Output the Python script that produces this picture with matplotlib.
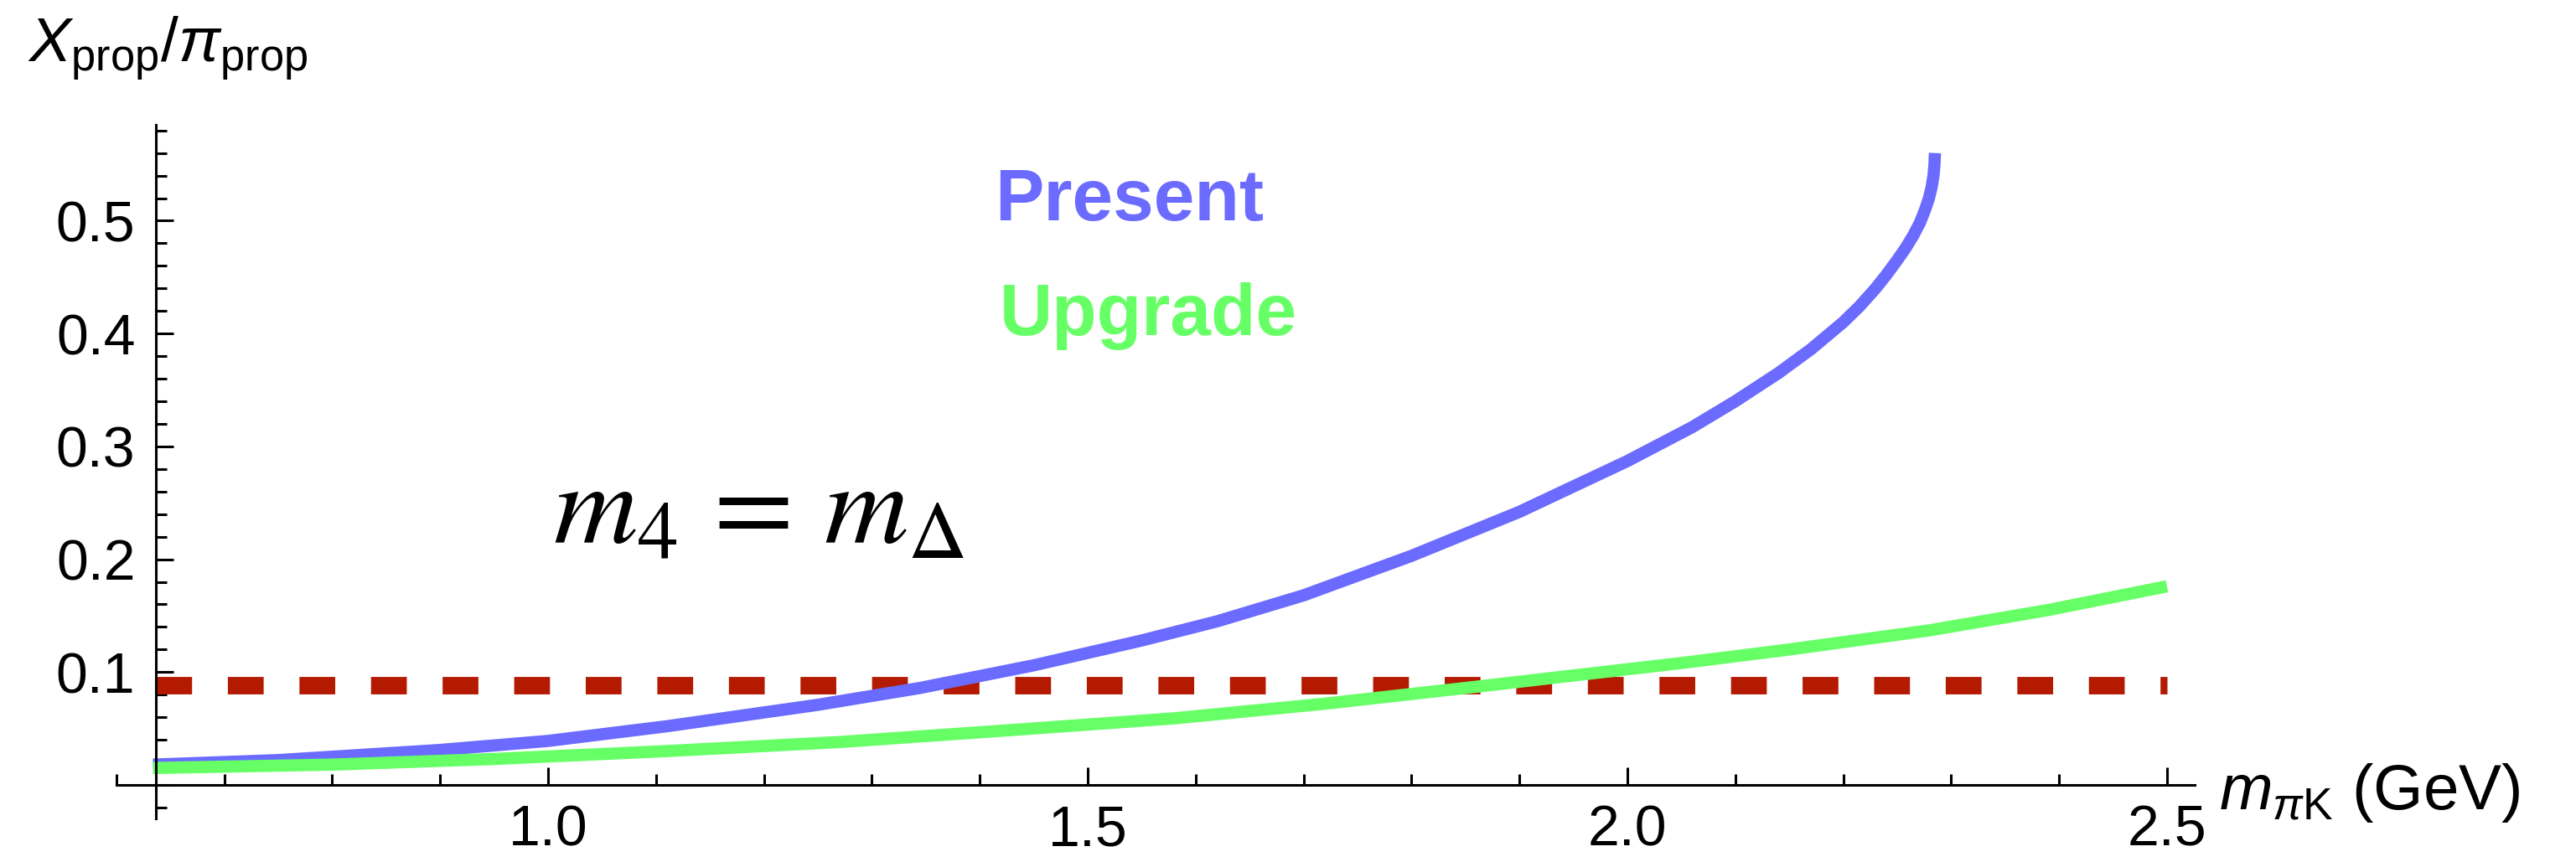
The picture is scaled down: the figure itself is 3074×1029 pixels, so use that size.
import matplotlib
matplotlib.use("Agg")
import matplotlib.pyplot as plt
from matplotlib.ticker import FixedLocator

plt.rcParams["font.family"] = ["Liberation Sans", "DejaVu Sans"]
plt.rcParams["mathtext.fontset"] = "custom"
plt.rcParams["mathtext.rm"] = "Liberation Sans"
plt.rcParams["mathtext.it"] = "Liberation Sans:italic"
plt.rcParams["mathtext.bf"] = "Liberation Sans:bold"

# values
present_x = [0.634, 0.75, 0.90, 1.00, 1.11, 1.25, 1.345, 1.45, 1.55, 1.62, 1.70,
             1.80, 1.90, 2.00, 2.06, 2.10, 2.14, 2.17, 2.20, 2.215, 2.23, 2.24,
             2.25, 2.258, 2.265, 2.271, 2.276, 2.2795, 2.282, 2.2837, 2.2846, 2.285]
present_y = [0.018, 0.022, 0.031, 0.039, 0.052, 0.071, 0.086, 0.106, 0.128, 0.145, 0.168,
             0.203, 0.242, 0.287, 0.317, 0.340, 0.365, 0.386, 0.410, 0.424, 0.440, 0.452,
             0.465, 0.476, 0.487, 0.498, 0.510, 0.520, 0.530, 0.540, 0.550, 0.560]

upgrade_x = [0.634, 0.80, 0.95, 1.11, 1.27, 1.42, 1.58, 1.72, 1.86, 1.95,
             2.05, 2.15, 2.28, 2.39, 2.50]
upgrade_y = [0.015, 0.018, 0.023, 0.030, 0.038, 0.048, 0.059, 0.072, 0.087, 0.097,
             0.108, 0.120, 0.137, 0.155, 0.176]

bound_x = [0.637, 2.50]
bound_y = [0.088, 0.088]

x_major = [1.0, 1.5, 2.0, 2.5]
x_minor = [0.6, 0.7, 0.8, 0.9, 1.1, 1.2, 1.3, 1.4, 1.6, 1.7, 1.8, 1.9,
           2.1, 2.2, 2.3, 2.4]
y_major = [0.0, 0.1, 0.2, 0.3, 0.4, 0.5]
y_labels = ["", "0.1", "0.2", "0.3", "0.4", "0.5"]
y_minor = [-0.02, 0.02, 0.04, 0.06, 0.08, 0.12, 0.14, 0.16, 0.18, 0.22, 0.24,
           0.26, 0.28, 0.32, 0.34, 0.36, 0.38, 0.42, 0.44, 0.46, 0.48,
           0.52, 0.54, 0.56, 0.58]

BLUE = "#6b6bff"
GREEN = "#66ff66"
RED = "#b31a00"

W, H = 3074, 1029
fig = plt.figure(figsize=(W / 100, H / 100), dpi=100)
ax = fig.add_axes([0, 0, 1, 1])
ax.patch.set_alpha(0)
ax.set_xlim(0.4922, 2.879)
ax.set_ylim(-0.0683, 0.6956)

ax.plot(bound_x, bound_y, color=RED, lw=15, dashes=(2.05, 2.05),
        solid_capstyle="butt", dash_capstyle="butt")
ax.plot(present_x, present_y, color=BLUE, lw=10.5, solid_capstyle="butt",
        solid_joinstyle="round")
ax.plot(upgrade_x, upgrade_y, color=GREEN, lw=10.5, solid_capstyle="butt",
        solid_joinstyle="round")

# Mathematica style axes crossing at (m_pi + m_K, 0)
for s in ("top", "right"):
    ax.spines[s].set_visible(False)
ax.spines["left"].set_position(("data", 0.637))
ax.spines["left"].set_bounds(-0.03, 0.585)
ax.spines["bottom"].set_position(("data", 0.0))
ax.spines["bottom"].set_bounds(0.600, 2.526)
for s in ("left", "bottom"):
    ax.spines[s].set_linewidth(2.2)

ax.xaxis.set_major_locator(FixedLocator(x_major))
ax.xaxis.set_minor_locator(FixedLocator(x_minor))
ax.set_xticklabels(["1.0", "1.5", "2.0", "2.5"])
ax.yaxis.set_major_locator(FixedLocator(y_major))
ax.yaxis.set_minor_locator(FixedLocator(y_minor))
ax.set_yticklabels(y_labels)

ax.tick_params(which="major", direction="in", length=15, width=2.2,
               labelsize=49)
ax.tick_params(which="minor", direction="in", length=9.5, width=2.2)
ax.tick_params(axis="x", which="major", pad=16)
ax.tick_params(axis="y", which="major", pad=18)

ax.text(1.414, 0.500, "Present", color=BLUE, fontsize=63, fontweight="bold",
        ha="left", va="baseline")
ax.text(1.418, 0.399, "Upgrade", color=GREEN, fontsize=63, fontweight="bold",
        ha="left", va="baseline")
ax.text(1.005, 0.214, r"$m_4 \,=\, m_\Delta$", fontsize=100,
        math_fontfamily="stix", ha="left", va="baseline")

fig.text(33 / W, 1 - 74 / H, r"$X_{\mathrm{prop}}/\pi_{\mathrm{prop}}$",
         fontsize=54, ha="left", va="baseline")
fig.text(2648 / W, 1 - 966 / H, r"$m_{\pi\mathrm{K}}$ (GeV)",
         fontsize=55, ha="left", va="baseline")

fig.savefig("out.png", dpi=100, facecolor="white")
